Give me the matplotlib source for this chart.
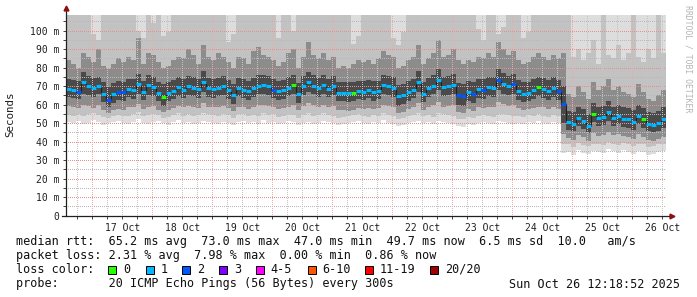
import datetime as dt
import matplotlib
matplotlib.use("Agg")
import matplotlib.pyplot as plt
import matplotlib.dates as mdates
from matplotlib.patches import Rectangle
from matplotlib.ticker import FixedLocator, FuncFormatter

W, H = 697, 297
MONO = "DejaVu Sans Mono"

# 2-hour steps starting 16 Oct 13:30
start = dt.datetime(2025, 10, 16, 13, 30)
step_hours = 2

# median rtt per step (ms)
median = [68.5, 68.0, 67.0, 72.0, 70.0, 69.0, 70.0, 66.0, 62.5, 65.5,
          67.0, 67.0, 68.5, 68.0, 71.0, 67.0, 70.5, 69.5, 66.5, 64.0,
          66.5, 67.5, 69.5, 68.0, 70.0, 69.0, 68.5, 72.5, 69.0, 68.5,
          69.0, 70.0, 68.0, 65.0, 69.0, 68.0, 67.5, 69.0, 70.0, 70.5,
          70.0, 68.0, 67.5, 68.0, 69.0, 70.5, 65.5, 70.0, 72.0, 70.0,
          69.0, 70.5, 68.5, 70.0, 66.5, 66.5, 66.5, 66.5, 67.5, 67.0,
          68.0, 67.0, 67.5, 70.5, 70.0, 69.0, 64.5, 65.0, 67.0, 68.0,
          72.5, 66.0, 69.0, 70.0, 73.5, 69.5, 70.0, 70.5, 65.0, 64.5,
          67.0, 66.0, 68.5, 68.0, 69.5, 69.0, 73.5, 71.0, 70.0, 71.0,
          67.5, 66.0, 66.5, 68.0, 69.5, 68.5, 67.5, 69.0, 67.5, 60.5,
          50.5, 49.5, 53.0, 51.0, 48.5, 55.0, 53.0, 53.5, 56.0, 53.0,
          54.0, 52.5, 52.0, 50.5, 54.0, 52.0, 49.5, 49.0, 50.0, 52.0]

# lost pings (of 20) per step
loss = [1, 1, 2, 1, 1, 1, 1, 1, 2, 1,
        2, 2, 1, 1, 1, 1, 1, 1, 1, 0,
        1, 1, 1, 1, 1, 1, 1, 1, 1, 1,
        1, 1, 1, 1, 1, 1, 1, 1, 1, 1,
        1, 2, 1, 1, 1, 0, 1, 1, 1, 1,
        1, 1, 1, 1, 1, 1, 1, 0, 1, 1,
        1, 1, 1, 1, 1, 1, 1, 1, 1, 1,
        1, 1, 1, 1, 1, 1, 1, 1, 2, 2,
        1, 2, 1, 2, 1, 1, 2, 1, 1, 2,
        1, 1, 1, 1, 0, 1, 1, 1, 2, 2,
        1, 1, 1, 1, 1, 0, 1, 1, 1, 1,
        1, 1, 1, 1, 1, 0, 1, 1, 1, 1]

# smoke: spread of the 20 pings per step (ms), outer -> inner
smoke_lo1 = [50.5, 50.0, 51.0, 49.5, 50.0, 51.5, 50.5, 49.0, 50.0, 50.5,
             51.0, 50.0, 49.5, 50.5, 52.0, 50.0, 49.5, 50.5, 51.0, 50.0,
             49.0, 50.5, 51.5, 50.0, 50.5, 49.5, 50.0, 51.0, 50.5, 50.0,
             49.5, 50.5, 50.0, 49.0, 50.5, 51.0, 50.0, 50.5, 49.5, 51.5,
             50.0, 50.5, 49.5, 50.0, 51.0, 50.5, 49.0, 50.0, 50.5, 49.5,
             50.0, 51.0, 50.5, 50.0, 49.0, 49.5, 50.0, 50.5, 51.0, 50.0,
             49.5, 50.5, 50.0, 51.5, 50.0, 49.5, 48.5, 49.0, 50.0, 50.5,
             51.0, 50.0, 50.5, 49.5, 51.0, 50.5, 50.0, 49.5, 48.5, 48.0,
             49.5, 49.0, 50.0, 50.5, 50.0, 49.5, 51.0, 50.5, 50.0, 49.5,
             50.0, 49.5, 50.5, 50.0, 51.0, 50.0, 49.5, 50.5, 50.0, 34.0,
             34.5, 33.0, 35.5, 34.0, 33.5, 35.0, 34.5, 34.0, 36.0, 35.0,
             34.0, 35.5, 34.5, 33.5, 35.0, 34.5, 33.0, 33.5, 34.5, 35.0]
smoke_lo2 = [54.5, 54.0, 55.0, 54.0, 55.0, 55.5, 54.5, 53.5, 53.0, 54.0,
             54.5, 54.0, 54.0, 55.0, 56.0, 54.0, 54.5, 55.0, 54.5, 53.0,
             53.5, 54.5, 55.5, 54.0, 55.0, 54.0, 54.5, 55.5, 55.0, 54.5,
             54.0, 55.0, 54.5, 53.0, 55.0, 55.0, 54.0, 54.5, 54.0, 55.5,
             54.5, 55.0, 53.5, 54.0, 55.0, 54.5, 53.0, 54.5, 55.5, 54.0,
             54.5, 55.5, 54.5, 54.0, 53.0, 53.5, 54.0, 54.5, 55.0, 54.0,
             53.5, 54.5, 54.0, 55.5, 54.5, 54.0, 52.5, 53.0, 54.0, 54.5,
             55.5, 54.0, 54.5, 53.5, 55.5, 55.0, 54.5, 54.0, 52.5, 52.0,
             53.5, 53.0, 54.0, 54.5, 54.0, 53.5, 55.0, 55.0, 54.5, 54.0,
             54.0, 53.5, 54.5, 54.0, 55.0, 54.0, 53.5, 54.5, 54.0, 39.0,
             38.5, 37.0, 39.5, 38.0, 37.5, 39.0, 38.5, 38.0, 40.0, 39.0,
             38.0, 39.5, 38.5, 37.5, 39.0, 38.5, 37.0, 37.5, 38.5, 39.0]
smoke_lo3 = [59.5, 58.5, 58.0, 60.0, 59.5, 58.0, 60.0, 57.0, 55.5, 57.0,
             57.5, 57.0, 59.0, 58.5, 60.5, 57.5, 59.0, 59.5, 57.0, 56.0,
             57.0, 58.0, 59.5, 58.5, 59.5, 59.0, 58.0, 61.0, 59.0, 58.5,
             59.0, 59.5, 58.0, 56.5, 59.0, 58.5, 57.5, 58.5, 60.0, 60.0,
             59.5, 58.5, 57.5, 58.0, 59.0, 60.0, 57.0, 59.5, 61.0, 60.0,
             58.5, 60.0, 58.5, 59.5, 57.0, 57.0, 56.5, 57.0, 58.0, 57.5,
             58.0, 57.5, 58.0, 60.0, 59.5, 58.5, 55.5, 56.0, 57.5, 58.5,
             61.0, 57.0, 58.5, 60.0, 61.5, 59.0, 59.5, 60.0, 56.0, 55.5,
             57.5, 56.5, 58.5, 58.0, 59.0, 59.0, 61.5, 60.5, 59.5, 60.0,
             58.0, 57.0, 57.5, 58.0, 59.0, 58.5, 57.5, 58.5, 57.5, 44.0,
             42.0, 41.0, 43.5, 42.5, 40.5, 44.5, 43.0, 43.5, 45.0, 43.5,
             44.0, 43.0, 42.5, 41.5, 44.0, 42.5, 41.0, 40.5, 41.5, 42.5]
smoke_lo4 = [64.0, 63.5, 63.0, 66.0, 65.0, 64.0, 65.5, 61.5, 58.5, 61.0,
             62.5, 62.0, 64.0, 63.0, 66.0, 62.5, 65.0, 64.5, 62.0, 59.5,
             62.0, 63.0, 64.5, 63.5, 65.0, 64.5, 63.5, 67.0, 64.0, 63.5,
             64.5, 65.0, 63.0, 60.5, 64.5, 63.5, 62.5, 64.0, 65.5, 65.5,
             65.0, 63.5, 62.5, 63.0, 64.5, 65.5, 61.0, 65.0, 67.0, 65.5,
             64.0, 65.5, 64.0, 65.0, 62.0, 62.0, 61.5, 62.0, 63.0, 62.5,
             63.5, 62.0, 63.0, 65.5, 65.0, 64.0, 59.5, 60.5, 62.0, 63.5,
             67.0, 61.5, 64.0, 65.5, 68.0, 64.5, 65.0, 65.5, 60.0, 59.5,
             62.0, 61.0, 63.5, 63.0, 64.5, 64.0, 68.0, 66.0, 65.0, 66.0,
             62.5, 61.5, 62.0, 63.0, 64.5, 63.5, 62.5, 64.0, 62.5, 50.0,
             46.5, 45.5, 48.5, 47.0, 44.5, 50.5, 48.5, 49.0, 51.0, 48.5,
             49.5, 48.0, 47.5, 46.5, 49.5, 47.5, 45.5, 45.0, 46.0, 47.5]
smoke_hi4 = [74.0, 73.5, 73.0, 77.5, 75.5, 74.5, 75.0, 72.0, 69.5, 71.5,
             73.0, 72.5, 74.0, 74.0, 76.5, 73.0, 76.0, 75.0, 72.5, 71.0,
             72.5, 73.5, 75.0, 74.0, 75.5, 75.0, 74.0, 78.0, 74.5, 74.0,
             74.5, 75.5, 73.5, 71.0, 74.5, 74.0, 73.0, 74.5, 76.0, 76.0,
             75.5, 74.0, 73.0, 73.5, 75.0, 76.0, 71.5, 75.5, 77.5, 76.0,
             74.5, 76.0, 74.0, 75.5, 72.5, 72.0, 72.0, 72.5, 73.0, 73.0,
             73.5, 73.0, 73.0, 76.0, 75.5, 75.0, 70.5, 71.0, 73.0, 74.0,
             78.0, 72.0, 74.5, 76.0, 79.0, 75.0, 75.5, 76.5, 71.5, 71.0,
             73.0, 72.5, 74.0, 74.0, 75.0, 75.0, 79.0, 77.0, 75.5, 76.5,
             73.5, 72.0, 72.5, 74.0, 75.0, 74.5, 73.5, 75.0, 73.5, 70.0,
             56.5, 56.0, 59.0, 57.5, 55.0, 61.0, 59.0, 59.5, 62.0, 59.0,
             60.0, 58.5, 58.0, 57.0, 60.0, 58.0, 56.0, 55.5, 56.5, 58.5]
smoke_hi3 = [84, 82, 80, 88, 86, 83, 90, 81, 79, 82,
             85, 83, 86, 84, 96, 82, 88, 87, 83, 80,
             81, 84, 86, 85, 90, 87, 82, 92, 86, 84,
             88, 86, 83, 80, 86, 85, 82, 89, 91, 87,
             86, 84, 81, 83, 88, 90, 80, 86, 94, 87,
             85, 88, 84, 86, 80, 81, 80, 82, 84, 83,
             84, 82, 85, 89, 87, 86, 80, 81, 84, 86,
             92, 82, 85, 88, 95, 86, 87, 90, 84, 82,
             84, 83, 86, 85, 88, 86, 94, 90, 87, 89,
             84, 82, 83, 86, 88, 86, 84, 87, 85, 88,
             66, 64, 70, 67, 63, 72, 68, 70, 74, 68,
             70, 67, 66, 64, 71, 67, 63, 62, 65, 68]
smoke_hi2 = [115, 115, 115, 115, 115, 98, 95, 115, 115, 115,
             115, 115, 115, 115, 100, 96, 115, 104, 115, 97,
             99, 115, 115, 115, 115, 115, 115, 115, 115, 115,
             115, 115, 94, 98, 115, 115, 115, 115, 115, 115,
             115, 115, 96, 115, 115, 100, 115, 115, 115, 115,
             115, 115, 115, 115, 115, 115, 115, 93, 97, 115,
             115, 115, 115, 115, 115, 96, 92, 99, 115, 115,
             115, 115, 115, 115, 115, 115, 115, 115, 115, 115,
             115, 115, 101, 95, 115, 115, 98, 102, 115, 115,
             115, 96, 99, 115, 115, 115, 115, 115, 115, 115,
             115, 86, 90, 84, 88, 95, 82, 110, 87, 85,
             92, 84, 88, 110, 86, 83, 90, 85, 115, 88]

y_major = [0, 10, 20, 30, 40, 50, 60, 70, 80, 90, 100]
y_minor = [5, 15, 25, 35, 45, 55, 65, 75, 85, 95, 105]

loss_legend = ["0", "1", "2", "3", "4-5", "6-10", "11-19", "20/20"]
loss_legend_colors = ["#26ff00", "#00b8ff", "#0059ff", "#7e00ff",
                      "#ff00ff", "#ff5500", "#ff0000", "#a00000"]

stats_rtt = "median rtt:  65.2 ms avg  73.0 ms max  47.0 ms min  49.7 ms now  6.5 ms sd  10.0   am/s"
stats_loss = "packet loss: 2.31 % avg  7.98 % max  0.00 % min  0.86 % now"
probe_line = "probe:       20 ICMP Echo Pings (56 Bytes) every 300s"
stamp = "Sun Oct 26 12:18:52 2025"


def px(x, y):
    return x / W, 1 - y / H


def loss_color(n):
    if n <= 3:
        return loss_legend_colors[n]
    if n <= 5:
        return loss_legend_colors[4]
    if n <= 10:
        return loss_legend_colors[5]
    if n <= 19:
        return loss_legend_colors[6]
    return loss_legend_colors[7]


fig = plt.figure(figsize=(W / 100, H / 100), dpi=100)
ax = fig.add_axes([66 / W, (H - 215.7) / H, 600 / W, 201 / H])

edges = [start + dt.timedelta(hours=step_hours * i) for i in range(len(median) + 1)]
x = mdates.date2num(edges)
ymax = 108.6


def ext(a):
    return list(a) + [a[-1]]


# smoke, outer (light) to inner (dark)
ax.fill_between(x, ext(smoke_lo1), 120, step="post", color="#dddddd", lw=0, zorder=1, antialiased=False)
ax.fill_between(x, ext(smoke_lo2), ext(smoke_hi2), step="post", color="#c2c2c2", lw=0, zorder=1, antialiased=False)
ax.fill_between(x, ext(smoke_lo3), ext(smoke_hi3), step="post", color="#8c8c8c", lw=0, zorder=1, antialiased=False)
ax.fill_between(x, ext(smoke_lo4), ext(smoke_hi4), step="post", color="#4a4a4a", lw=0, zorder=1, antialiased=False)

# grid (dotted, drawn over the smoke like rrdtool)
dots = (0, (1, 2))
for v in y_minor:
    ax.axhline(v, color="#b8b8b8", lw=0.72, ls=dots, zorder=2, antialiased=False)
for v in y_major[1:]:
    ax.axhline(v, color="#e89090", lw=0.72, ls=dots, zorder=2, antialiased=False)
t = dt.datetime(2025, 10, 16, 18, 0)
while t < edges[-1]:
    col = "#f0a8a8" if t.hour == 0 else "#c4c4c4"
    ax.axvline(mdates.date2num(t), color=col, lw=0.72, ls=dots, zorder=2, antialiased=False)
    t += dt.timedelta(hours=6)

# median line + loss coloured segments
ax.step(x, ext(median), where="post", color="#202020", lw=0.8, zorder=3)
ax.hlines(median, x[:-1], x[1:], colors=[loss_color(n) for n in loss],
          lw=2.2, zorder=4, capstyle="butt")

ax.set_xlim(x[0], x[-1])
ax.set_ylim(0, ymax)

# axes look
for s in ["top", "right", "left"]:
    ax.spines[s].set_visible(False)
ax.spines["bottom"].set_color("#202020")
ax.spines["bottom"].set_linewidth(0.9)
ax.spines["bottom"].set_bounds(x[0] - 0.07, x[-1] + 0.12)
ax.plot([0, 0], [0, 1.03], transform=ax.transAxes, color="#202020", lw=0.9,
        clip_on=False, zorder=5)
ax.plot([0], [1.035], marker="^", ms=3.5, color="#8b1010", transform=ax.transAxes,
        clip_on=False, zorder=6)
ax.plot([1.01], [0], marker=">", ms=3.5, color="#8b1010", transform=ax.transAxes,
        clip_on=False, zorder=6)

ax.yaxis.set_major_locator(FixedLocator(y_major))
ax.yaxis.set_minor_locator(FixedLocator(y_minor))
ax.yaxis.set_major_formatter(FuncFormatter(lambda v, p: "0" if v == 0 else "%d m" % v))
ax.xaxis.set_major_locator(mdates.HourLocator(byhour=[12]))
ax.xaxis.set_minor_locator(mdates.HourLocator(byhour=[0, 6, 12, 18]))
ax.xaxis.set_major_formatter(mdates.DateFormatter("%d %b"))
ax.tick_params(which="both", length=2, width=0.7, color="#404040",
               labelsize=7, labelcolor="#202020")
ax.tick_params(axis="y", pad=3)
ax.tick_params(axis="x", pad=3)
for lab in ax.get_xticklabels() + ax.get_yticklabels():
    lab.set_family(MONO)

fig.text(*px(10.5, 114), "Seconds", rotation=90, ha="center", va="center",
         family=MONO, fontsize=7.8, color="#202020")
fig.text(*px(688, 59), "RRDTOOL / TOBI OETIKER", rotation=270, ha="center",
         va="center", family=MONO, fontsize=5.9, color="#b4b4b4")

# legend text
fs = 8.5
fig.text(*px(16, 241), stats_rtt, family=MONO, fontsize=fs, va="center", color="#101010")
fig.text(*px(16, 255.5), stats_loss, family=MONO, fontsize=fs, va="center", color="#101010")
fig.text(*px(16, 269.5), "loss color:", family=MONO, fontsize=fs, va="center", color="#101010")
fig.text(*px(16, 284), probe_line, family=MONO, fontsize=fs, va="center", color="#101010")
fig.text(*px(680, 284), stamp, family=MONO, fontsize=fs, va="center", ha="right", color="#101010")

box_x = [108, 145.7, 182.3, 219, 255.7, 307.7, 365, 430]
for bx, lab, col in zip(box_x, loss_legend, loss_legend_colors):
    x0, y0 = px(bx, 273.5)
    fig.add_artist(Rectangle((x0, y0), 8 / W, 8 / H, transform=fig.transFigure,
                             facecolor=col, edgecolor="#000000", lw=0.7))
    fig.text(*px(bx + 15, 269.5), lab, family=MONO, fontsize=fs, va="center", color="#101010")

fig.savefig("out.png", dpi=100)
